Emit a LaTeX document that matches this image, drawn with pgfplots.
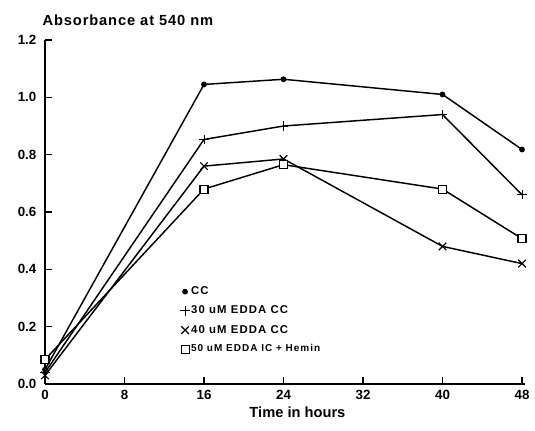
\documentclass[border=0pt]{standalone}
\usepackage{fontspec}
\setmainfont{Liberation Sans}
\newfontfamily\widefont[LetterSpace=6]{Liberation Sans}
\newfontfamily\legfont[LetterSpace=10]{Liberation Sans}
\usepackage{pgfplots}
\pgfplotsset{compat=1.18}

\begin{document}
\begin{tikzpicture}
\begin{axis}[
 at={(0,0)},anchor=south west,
 scale only axis,width=360pt,height=258pt,
 xmin=0,xmax=48.3,ymin=0,ymax=1.2,
 axis lines=left,axis line style={-,line width=0.9pt},
 xtick={0,8,16,24,32,40,48},
 ytick={0,0.2,0.4,0.6,0.8,1.0,1.2},
 yticklabel style={/pgf/number format/fixed,/pgf/number format/fixed zerofill,/pgf/number format/precision=1,xshift=-3pt},
 /pgf/number format/assume math mode=true,
 tick align=inside,major tick length=5pt,
 tick style={black,line width=0.8pt},
 tick label style={font=\bfseries\fontsize{10}{12}\selectfont},
 xticklabel style={yshift=-1pt},
 clip=false,
 legend style={at={(axis cs:13.6,0.345)},anchor=north west,draw=none,fill=none,
   font=\legfont\bfseries\fontsize{8.5}{10}\selectfont,row sep=5pt,
   inner sep=0pt,nodes={inner sep=1pt}},
 legend cell align=left,
 legend image code/.code={\draw[#1,only marks] plot coordinates {(0.1cm,0cm)};},
]
\addplot[black,line width=1.1pt,mark=*,mark size=1.6pt] coordinates
 {(0,0.05) (16,1.045) (24,1.063) (40,1.01) (48,0.818)};
\addplot[black,line width=1.1pt,mark=+,mark size=3.5pt,mark options={line width=0.7pt}] coordinates
 {(0,0.04) (16,0.853) (24,0.90) (40,0.94) (48,0.66)};
\addplot[black,line width=1.1pt,mark=x,mark size=4pt,mark options={line width=0.9pt}] coordinates
 {(0,0.03) (16,0.76) (24,0.785) (40,0.48) (48,0.42)};
\addplot[black,line width=1.1pt,mark=square*,mark size=3pt,mark options={fill=white,line width=0.8pt}] coordinates
 {(0,0.085) (16,0.68) (24,0.765) (40,0.68) (48,0.507)};
\legend{CC,30 uM EDDA CC,40 uM EDDA CC,{\fontsize{7.5}{9}\selectfont 50 uM EDDA IC + Hemin}}
\node[anchor=west,font=\widefont\bfseries\fontsize{11}{13}\selectfont,inner sep=0pt] at (rel axis cs:0,1) [xshift=-2pt,yshift=15pt] {Absorbance at 540 nm};
\node[font=\bfseries\fontsize{11}{13}\selectfont,inner sep=0pt] at (axis cs:25.4,0) [yshift=-21pt] {Time in hours};
\end{axis}
\pgfresetboundingbox
\path (-33.75pt,-35.25pt) rectangle (367.5pt,288pt);
\end{tikzpicture}
\end{document}
